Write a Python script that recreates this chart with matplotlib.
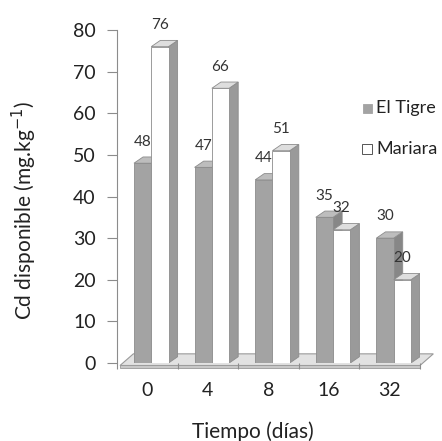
import numpy as np
import matplotlib
matplotlib.use("Agg")
import matplotlib.pyplot as plt
from matplotlib.patches import Polygon, Rectangle

# Cd disponible por tiempo de incubacion
dias = ["0", "4", "8", "16", "32"]
el_tigre = [48, 47, 44, 35, 30]
mariara = [76, 66, 51, 32, 20]

plt.rcParams['font.family'] = ['Lato', 'DejaVu Sans']

W, H = 442, 441
fig = plt.figure(figsize=(W / 100, H / 100), dpi=100)
ax = fig.add_axes([117 / W, 78 / H, 303 / W, 333 / H])
ax.set_xlim(0, 5)
ax.set_ylim(0, 80)

# pseudo 3d depth (data units)
dx, dy = 0.15, 1.5
bw = 0.285
off = 0.28

gray_front, gray_top, gray_side = "#a3a3a3", "#bdbdbd", "#878787"
wh_front, wh_top, wh_side = "#ffffff", "#dedede", "#9a9a9a"
edge = "#8c8c8c"


def box(x0, h, front, top, side, z):
    x1 = x0 + bw
    ax.add_patch(Polygon([(x1, 0), (x1 + dx, dy), (x1 + dx, h + dy), (x1, h)],
                         closed=True, fc=side, ec=edge, lw=0.6, zorder=z))
    ax.add_patch(Polygon([(x0, h), (x1, h), (x1 + dx, h + dy), (x0 + dx, h + dy)],
                         closed=True, fc=top, ec=edge, lw=0.6, zorder=z))
    ax.add_patch(Rectangle((x0, 0), bw, h, fc=front, ec=edge, lw=0.6, zorder=z))


# floor
ax.add_patch(Polygon([(0.05, -0.6), (5.0, -0.6), (5.0 + 0.22, 2.2), (0.05 + 0.22, 2.2)],
                     closed=True, fc="#e2e2e2", ec="#9a9a9a", lw=0.8,
                     clip_on=False, zorder=1))
ax.add_patch(Polygon([(0.05, -0.6), (5.0, -0.6), (5.0, -1.2), (0.05, -1.2)],
                     closed=True, fc="#c8c8c8", ec="#9a9a9a", lw=0.6,
                     clip_on=False, zorder=1))

for i in range(len(dias)):
    xg = i + off
    xw = xg + bw
    box(xg, el_tigre[i], gray_front, gray_top, gray_side, 2 + i * 2)
    box(xw, mariara[i], wh_front, wh_top, wh_side, 3 + i * 2)
    ax.text(xg + bw / 2, el_tigre[i] + 5.2, str(el_tigre[i]), ha="center", va="center",
            fontsize=11, color="#333333", zorder=20)
    ax.text(xw + bw / 2, mariara[i] + 5.2, str(mariara[i]), ha="center", va="center",
            fontsize=11, color="#333333", zorder=20)

for s in ["top", "right", "bottom"]:
    ax.spines[s].set_visible(False)
ax.spines["left"].set_color("#8c8c8c")
ax.spines["left"].set_linewidth(0.8)

ax.set_yticks(np.arange(0, 81, 10))
ax.tick_params(axis="y", direction="out", length=7.2, width=0.8, color="#8c8c8c",
               labelsize=14, pad=8, labelcolor="#222222")
ax.set_xticks(np.arange(len(dias)) + 0.5)
ax.set_xticklabels(dias)
ax.set_xticks(np.arange(0, 6), minor=True)
ax.tick_params(axis="x", which="major", length=0, labelsize=14, pad=14, labelcolor="#222222")
ax.tick_params(axis="x", which="minor", direction="out", length=4, width=0.8, color="#8c8c8c")

fig.text(253 / W, 1 - 432 / H, "Tiempo (días)", ha="center", va="center",
         fontsize=15, color="#222222")
fig.text(24 / W, 1 - 211 / H, "Cd disponible (mg.kg$^{-1}$)", ha="center", va="center",
         rotation=90, fontsize=15, color="#222222")

# legend
fig.patches.append(Rectangle((363 / W, 1 - 113 / H), 9 / W, 9 / H, fc=gray_front,
                             ec="#a3a3a3", lw=0.6, transform=fig.transFigure))
fig.text(376 / W, 1 - 108 / H, "El Tigre", ha="left", va="center", fontsize=13, color="#222222")
fig.patches.append(Rectangle((362 / W, 1 - 154 / H), 10 / W, 10 / H, fc="white",
                             ec="#555555", lw=0.7, transform=fig.transFigure))
fig.text(376 / W, 1 - 149 / H, "Mariara", ha="left", va="center", fontsize=13, color="#222222")

fig.savefig("out.png", dpi=100)
